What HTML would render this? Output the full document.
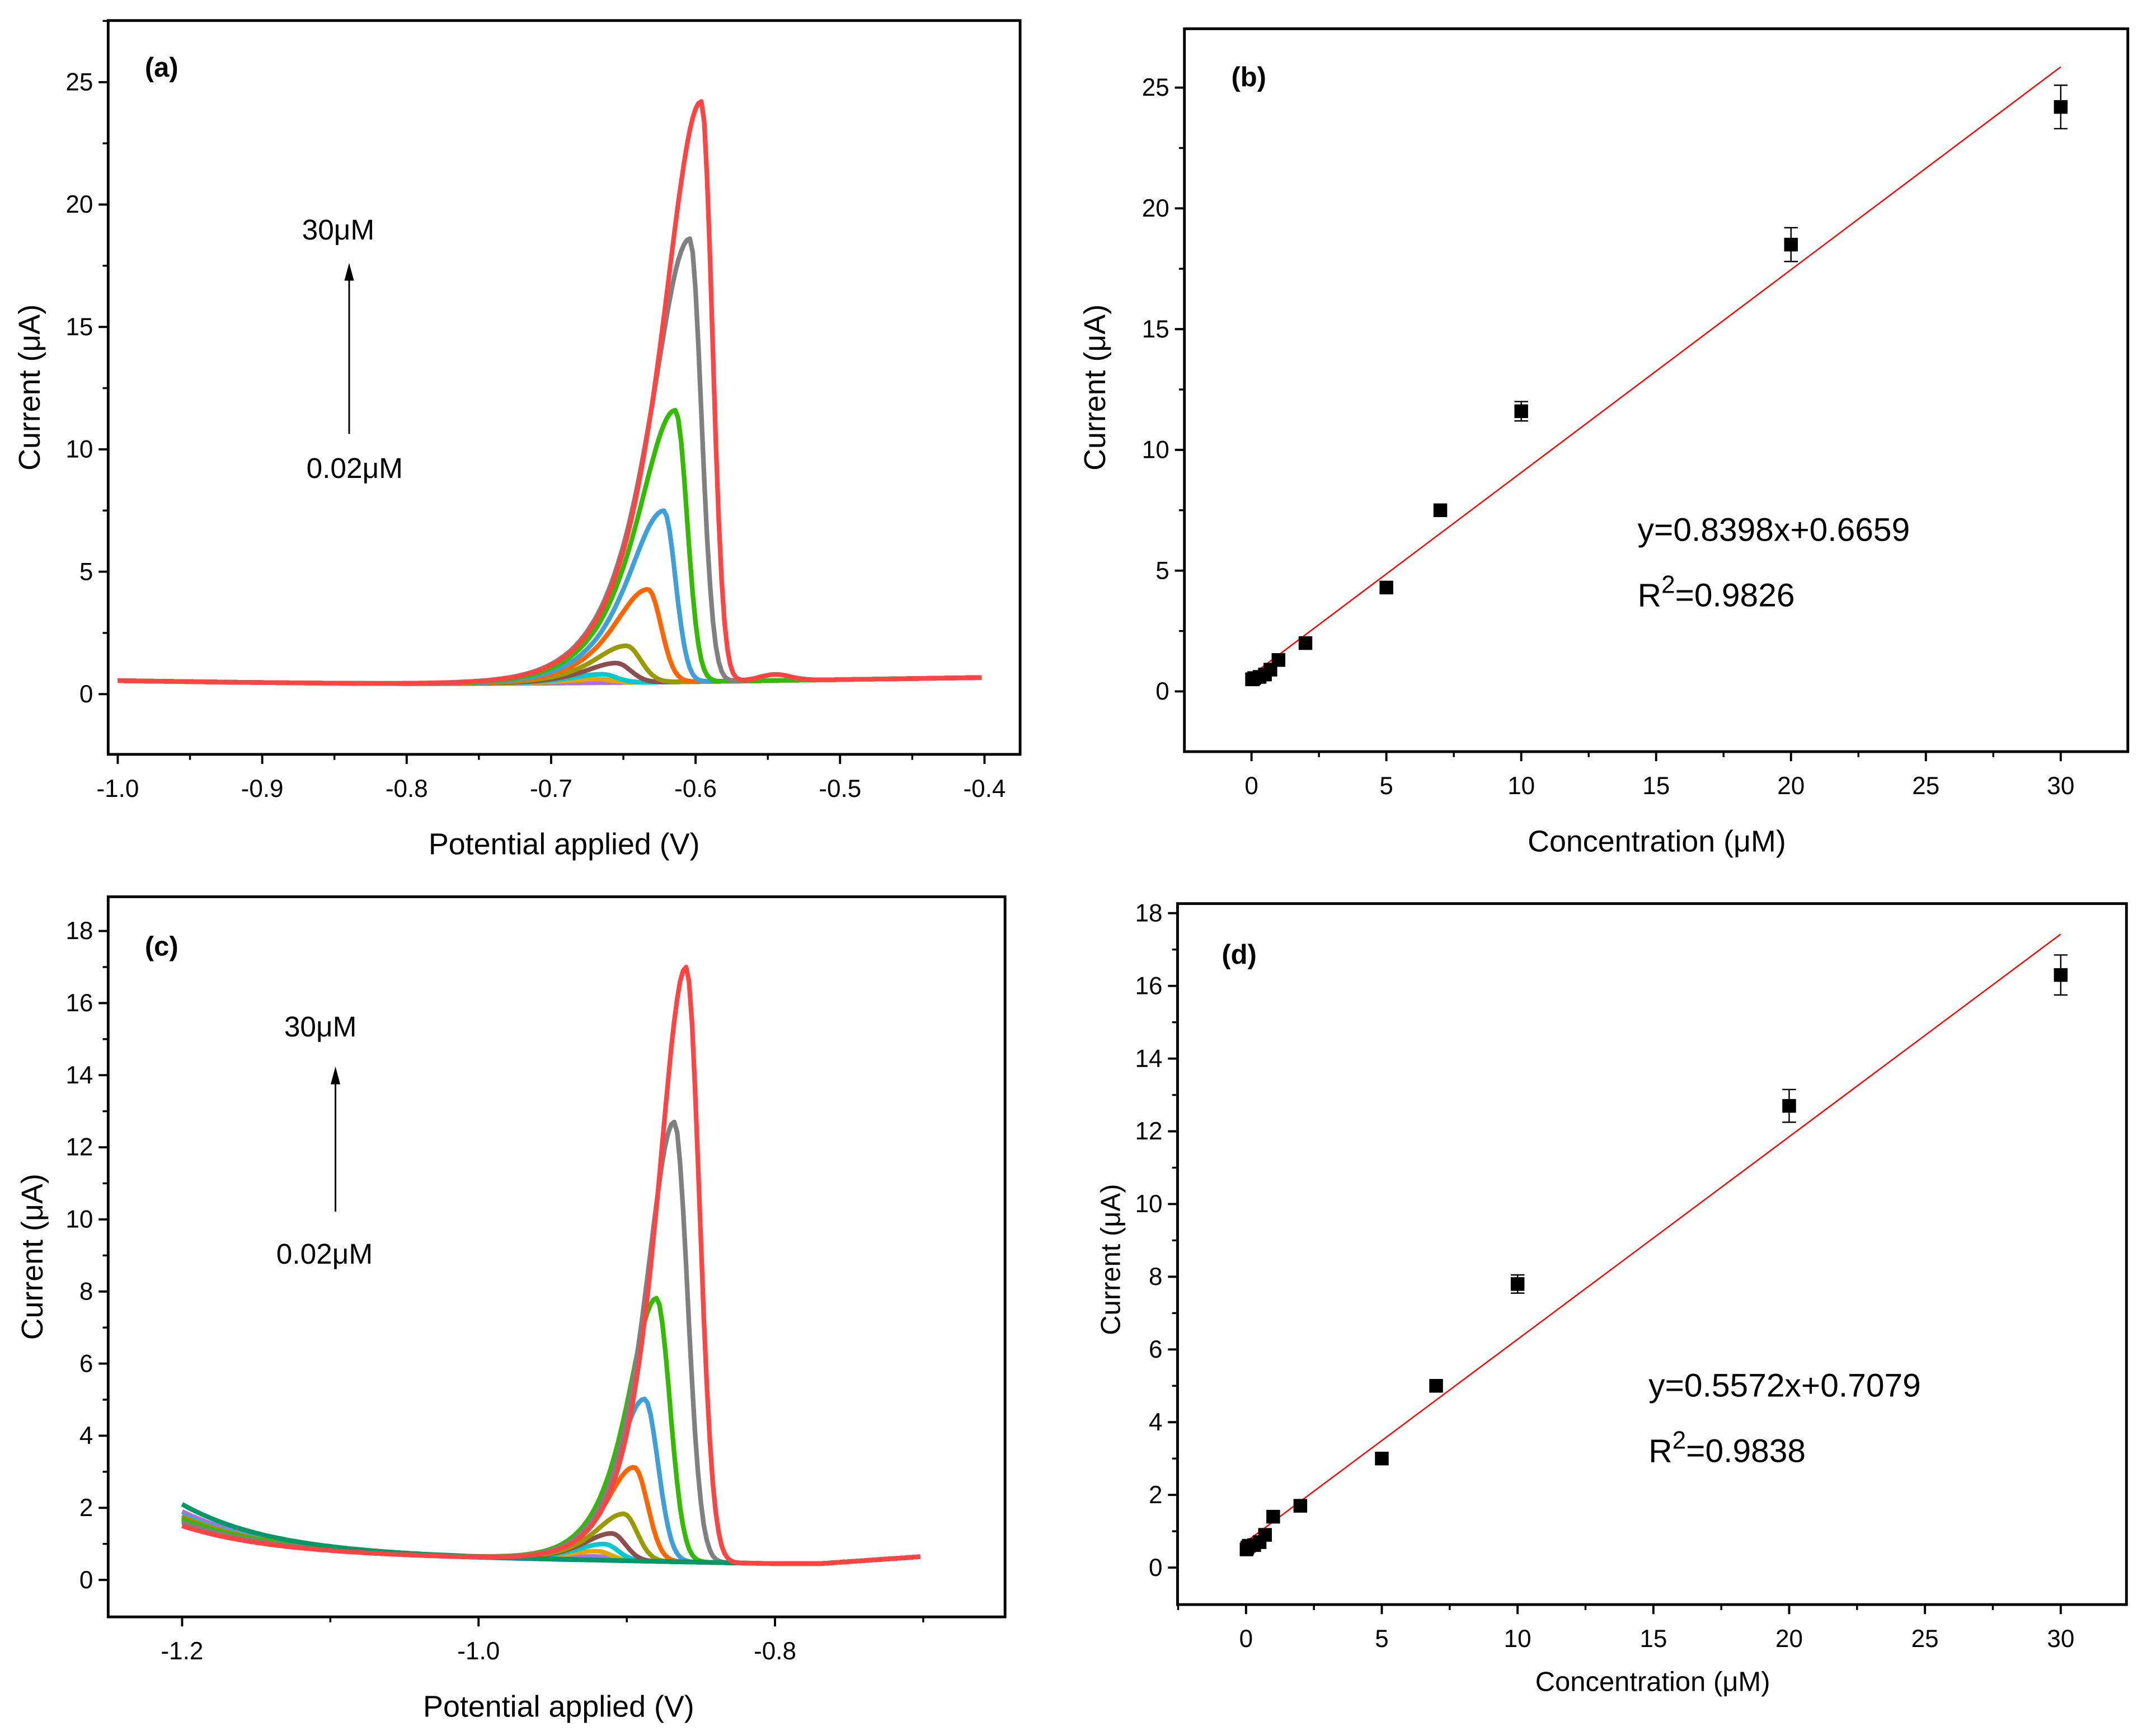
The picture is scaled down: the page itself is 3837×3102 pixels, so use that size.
<!DOCTYPE html>
<html><head><meta charset="utf-8"><style>
html,body{margin:0;padding:0;background:#fff;}
svg{display:block;}
text{font-family:"Liberation Sans",sans-serif;fill:#000;}
</style></head><body>
<svg id="fig" width="3837" height="3102" viewBox="0 0 1568 1268" preserveAspectRatio="none" xmlns="http://www.w3.org/2000/svg"></svg>
<script>
// ---- data ----
const colorsA = ['#b06ee0','#e6a400','#00c8d0','#8b4f4f','#999900','#ff6600','#3fa0d8','#33bb00','#808080','#ff4444'];
const peakHA = [0.0,0.15,0.35,0.8,1.5,3.8,7.0,11.1,18.1,23.7];
const peakXA = [-0.665,-0.668,-0.665,-0.655,-0.648,-0.633,-0.622,-0.614,-0.604,-0.596];
const tauA   = [0.02,0.02,0.02,0.02,0.021,0.022,0.023,0.024,0.025,0.025];
const sigRA  = [0.01,0.01,0.01,0.01,0.01,0.009,0.008,0.008,0.008,0.0075];
const colorsC = ['#2f6fe0','#b06ee0','#e6a400','#00c8d0','#8b4f4f','#999900','#ff6600','#3fa0d8','#33bb00','#808080','#009966','#ff4444'];
const peakHC = [0.0,0.1,0.25,0.45,0.75,1.3,2.6,4.5,7.3,12.2,0.0,16.5];
const peakXC = [-0.92,-0.92,-0.92,-0.915,-0.91,-0.902,-0.895,-0.888,-0.88,-0.868,-0.9,-0.86];
const startC = [1.5,1.9,1.7,1.8,1.6,1.7,1.75,1.65,1.7,1.6,2.1,1.5];
const concB = [0.02,0.05,0.1,0.3,0.5,0.7,1,2,5,7,10,20,30];
const curB  = [0.5,0.5,0.55,0.6,0.7,0.9,1.3,2.0,4.3,7.5,11.6,18.5,24.2];
const errB  = [0,0,0,0,0,0,0,0,0,0,0.4,0.7,0.9];
const concD = [0.02,0.05,0.1,0.3,0.5,0.7,1,2,5,7,10,20,30];
const curD  = [0.5,0.55,0.6,0.62,0.7,0.9,1.4,1.7,3.0,5.0,7.8,12.7,16.3];
const errD  = [0,0,0,0,0,0,0,0,0,0,0.25,0.45,0.55];
const fitB = [0.8398,0.6659], fitD = [0.5572,0.7079];

const svg = document.getElementById('fig');
const NS='http://www.w3.org/2000/svg';
function mk(tag, attrs, parent){const e=document.createElementNS(NS,tag);for(const k in attrs)e.setAttribute(k,attrs[k]);(parent||svg).appendChild(e);return e;}
function txt(s,x,y,size,anchor,parent,extra){const t=mk('text',Object.assign({x:x,y:y,'font-size':size,'text-anchor':anchor||'middle'},extra||{}),parent);t.textContent=s;return t;}
function lin(d0,d1,p0,p1){return v=>p0+(v-d0)*(p1-p0)/(d1-d0);}

function axesFrame(g,box,xs,ys,xt,xmin,yt,ymin,xl,yl,xfmt,yfmt){
  const r=mk('rect',{x:box[0],y:box[1],width:box[2]-box[0],height:box[3]-box[1],fill:'none',stroke:'#000','stroke-width':2},g);
  
  xt.forEach(v=>{mk('line',{x1:xs(v),x2:xs(v),y1:box[3],y2:box[3]+7,stroke:'#000','stroke-width':1.6},g);
    const t=txt(xfmt(v),xs(v),box[3]+31,18,'middle',g);});
  xmin.forEach(v=>mk('line',{x1:xs(v),x2:xs(v),y1:box[3],y2:box[3]+4,stroke:'#000','stroke-width':1.4},g));
  yt.forEach(v=>{mk('line',{x1:box[0]-7,x2:box[0],y1:ys(v),y2:ys(v),stroke:'#000','stroke-width':1.6},g);
    const t=txt(yfmt(v),box[0]-11,ys(v)+6,18,'end',g);});
  ymin.forEach(v=>mk('line',{x1:box[0]-4,x2:box[0],y1:ys(v),y2:ys(v),stroke:'#000','stroke-width':1.4},g));
  const xt2=txt(xl[0],xl[1],xl[2],xl[3],'middle',g);
  const yt2=txt(yl[0],0,0,yl[3],'middle',g,{transform:`translate(${yl[1]},${yl[2]}) rotate(-90)`});
}
function range(a,b,s){const r=[];for(let v=a;v<=b+1e-9;v+=s)r.push(+v.toFixed(4));return r;}
function sech(x){return 2/(Math.exp(x)+Math.exp(-x));}
function peak(x,h,x0,tau,sr){const d=x-x0;return d<0? h*sech(d/tau) : h*Math.exp(-d*d/(2*sr*sr));}

// ---- panel a ----
(function(){
  const g=mk('g',{});
  const box=[79,15,745,551];const xs=lin(-1.0,-0.4,86,719),ys=lin(0,25,507,60);
  axesFrame(g,box,xs,ys,range(-1,-0.4,0.1),range(-0.95,-0.45,0.1),range(0,25,5),range(2.5,27.5,5),
    ['Potential applied (V)',412,624,22],['Current (μA)',29,283,22],v=>v.toFixed(1),v=>String(v));
  colorsA.forEach((c,i)=>{
    let pts=[];
    for(let x=-1.0;x<=-0.4001;x+=0.002){
      let base=0.55-0.12*Math.sin(Math.PI*(x+1)/0.45);
      if(x>-0.55) base=0.55+0.13*(x+0.55)/0.15;
      let y=base+peak(x,peakHA[i],peakXA[i],tauA[i],sigRA[i]);
      if(i>=8) y+=0.25*Math.exp(-Math.pow((x+0.545)/0.015,2));
      pts.push(xs(x).toFixed(1)+','+ys(y).toFixed(1));
    }
    const p=mk('polyline',{points:pts.join(' '),fill:'none',stroke:c,'stroke-width':3.4,'stroke-linejoin':'round'},g);
    
  });
  const l=txt('(a)',118,56,20,'middle',g,{'font-weight':'bold'});
  const t1=txt('30μM',247,175,21,'middle',g);
  const t2=txt('0.02μM',259,349,21,'middle',g);
  const a=mk('line',{x1:255,x2:255,y1:317,y2:205,stroke:'#000','stroke-width':1.2},g);
  mk('polygon',{points:'255,192 251.5,205 258.5,205',fill:'#000'},g);
})();

// ---- panel c ----
(function(){
  const g=mk('g',{});
  const box=[79,655,734,1181];const xs=lin(-1.2,-0.8,133,566),ys=lin(0,18,1154,680);
  axesFrame(g,box,xs,ys,[-1.2,-1.0,-0.8],[-1.1,-0.9,-0.7],range(0,18,2),range(1,17,2),
    ['Potential applied (V)',408,1254,22],['Current (μA)',31,918,22],v=>v.toFixed(1),v=>String(v));
  colorsC.forEach((c,i)=>{
    let pts=[];
    for(let x=-1.2;x<=-0.7001;x+=0.002){
      const d=x+1.2;
      let base=0.45+(startC[i]-0.75)*Math.exp(-d/0.06)+0.3*Math.max(0,(-0.8-x))/0.4;
      if(x>-0.77) base+=0.2*(x+0.77)/0.07;
      let y=base+peak(x,peakHC[i],peakXC[i],0.018,0.009);
      pts.push(xs(x).toFixed(1)+','+ys(y).toFixed(1));
    }
    const p=mk('polyline',{points:pts.join(' '),fill:'none',stroke:c,'stroke-width':3.4,'stroke-linejoin':'round'},g);
    
  });
  const l=txt('(c)',118,698,20,'middle',g,{'font-weight':'bold'});
  const t1=txt('30μM',234,757,21,'middle',g);
  const t2=txt('0.02μM',237,923,21,'middle',g);
  const a=mk('line',{x1:245,x2:245,y1:885,y2:792,stroke:'#000','stroke-width':1.2},g);
  mk('polygon',{points:'245,779 241.5,792 248.5,792',fill:'#000'},g);
})();

// ---- calibration panels ----
function calib(name,box,xs,ys,yt,ymin,conc,cur,err,fit,lab,labPos,eq,eqPos,xl,yl){
  const g=mk('g',{});
  axesFrame(g,box,xs,ys,range(0,30,5),range(-2.5,32.5,5).filter(v=>xs(v)>box[0]&&xs(v)<box[2]),yt,ymin,xl,yl,v=>String(v),v=>String(v));
  const f=mk('line',{x1:xs(0),y1:ys(fit[1]),x2:xs(30),y2:ys(fit[0]*30+fit[1]),stroke:'#ff0000','stroke-width':1},g);
  
  conc.forEach((c,i)=>{
    if(err[i]>0){const x=xs(c);
      mk('line',{x1:x,x2:x,y1:ys(cur[i]-err[i]),y2:ys(cur[i]+err[i]),stroke:'#000','stroke-width':1},g);
      [cur[i]-err[i],cur[i]+err[i]].forEach(v=>mk('line',{x1:x-5,x2:x+5,y1:ys(v),y2:ys(v),stroke:'#000','stroke-width':1},g));}
    const r=mk('rect',{x:xs(c)-5,y:ys(cur[i])-5,width:10,height:10,fill:'#000'},g);
    
  });
  const l=txt(lab,labPos[0],labPos[1],20,'middle',g,{'font-weight':'bold'});
  const e1=txt(eq[0],eqPos[0],eqPos[1],24,'start',g);
  const e2=mk('text',{x:eqPos[0],y:eqPos[1]+48,'font-size':24,'text-anchor':'start'},g);
  e2.innerHTML='R<tspan dy="-10" font-size="18">2</tspan><tspan dy="10">='+eq[1]+'</tspan>';
}
calib('panel-b',[865,21,1554,549],lin(0,30,914,1505),lin(0,25,505,64),range(0,25,5),range(2.5,22.5,5),
  concB,curB,errB,fitB,'(b)',[912,63],['y=0.8398x+0.6659','0.9826'],[1196,395],['Concentration (μM)',1210,622,22],['Current (μA)',807,283,22]);
calib('panel-d',[860,660,1553,1172],lin(0,30,910,1505),lin(0,18,1145,667),range(0,18,2),range(1,17,2),
  concD,curD,errD,fitD,'(d)',[905,704],['y=0.5572x+0.7079','0.9838'],[1204,1020],['Concentration (μM)',1207,1235,20],['Current (μA)',818,920,20]);
</script>
</body></html>
